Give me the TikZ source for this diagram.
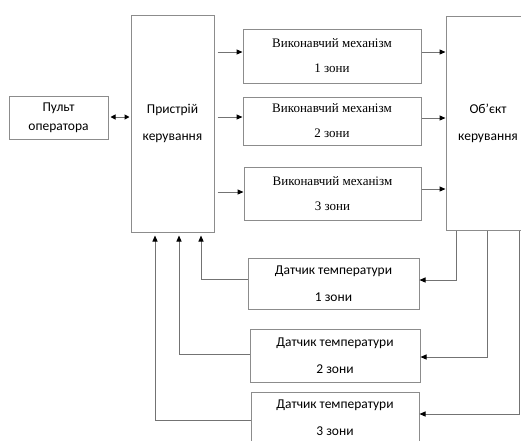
\documentclass[tikz,border=0pt]{standalone}
\usepackage{fontspec}
\setmainfont{Carlito}
\newfontfamily\serifx{Liberation Serif}
\usetikzlibrary{arrows.meta}
\definecolor{boxgray}{gray}{0.55}
\definecolor{linegray}{gray}{0.45}
\begin{document}
\begin{tikzpicture}[x=1pt,y=-1pt,
  blk/.style={draw=boxgray,line width=1pt,rectangle,inner sep=0pt,align=center,font=\fontsize{13.5}{27}\selectfont},
  exb/.style={blk,font=\serifx\fontsize{13}{25}\selectfont},
  arr/.style={draw=linegray,line width=1pt,-{Triangle[length=6pt,width=5pt,fill=black,color=black]}},
  darr/.style={draw=linegray,line width=1pt,{Triangle[length=5pt,width=5pt,fill=black,color=black]}-{Triangle[length=5pt,width=5pt,fill=black,color=black]}},
  ln/.style={draw=linegray,line width=1pt}]
\useasboundingbox (0,0) rectangle (521,440);
\fill[white] (0,0) rectangle (521,440);
\clip (0,0) rectangle (521,440);
\node[blk,minimum width=99pt,minimum height=43pt,font=\fontsize{13.5}{19}\selectfont] (pult) at (58.5,117.5) {Пульт\\оператора};
\node[blk,minimum width=83pt,minimum height=217pt] (ctrl) at (172.5,123.5) {Пристрій\\керування};
\node[exb,minimum width=178pt,minimum height=54pt] (ex1) at (332,56) {Виконавчий механізм\\1 зони};
\node[exb,minimum width=178pt,minimum height=48pt] (ex2) at (332,121) {Виконавчий механізм\\2 зони};
\node[exb,minimum width=177pt,minimum height=53pt] (ex3) at (332.5,193.5) {Виконавчий механізм\\3 зони};
\node[blk,minimum width=84pt,minimum height=214pt] (obj) at (488,123) {Об’єкт\\керування};
\node[blk,minimum width=171pt,minimum height=51pt] (s1) at (333.5,283.5) {Датчик температури\\1 зони};
\node[blk,minimum width=170pt,minimum height=53pt] (s2) at (335,355.5) {Датчик температури\\2 зони};
\node[blk,minimum width=168pt,minimum height=52pt] (s3) at (335,418) {Датчик температури\\3 зони};
% operator <-> controller
\draw[darr,shorten <=2pt,shorten >=1pt] (pult.east |- 0,117) -- (ctrl.west |- 0,117);
% controller -> actuators
\draw[arr,shorten <=3pt] (ctrl.east |- 0,52) -- (ex1.west |- 0,52);
\draw[arr,shorten <=3pt] (ctrl.east |- 0,117) -- (ex2.west |- 0,117);
\draw[arr,shorten <=3pt] (ctrl.east |- 0,192) -- (ex3.west |- 0,192);
% actuators -> object
\draw[arr] (ex1.east |- 0,52) -- (obj.west |- 0,52);
\draw[arr] (ex2.east |- 0,118) -- (obj.west |- 0,118);
\draw[arr] (ex3.east |- 0,189) -- (obj.west |- 0,189);
% object -> sensors
\draw[arr] (obj.south -| 456,0) |- (s1.east |- 0,280);
\draw[arr] (obj.south -| 487,0) |- (s2.east |- 0,357);
\draw[arr] (obj.south -| 519,0) |- (s3.east |- 0,414);
% sensors -> controller
\draw[arr,shorten >=3pt] (s1.west |- 0,279) -| (ctrl.south -| 201,0);
\draw[arr,shorten >=3pt] (s2.west |- 0,354) -| (ctrl.south -| 179,0);
\draw[arr,shorten >=3pt] (s3.west |- 0,420) -| (ctrl.south -| 155,0);
\end{tikzpicture}
\end{document}
